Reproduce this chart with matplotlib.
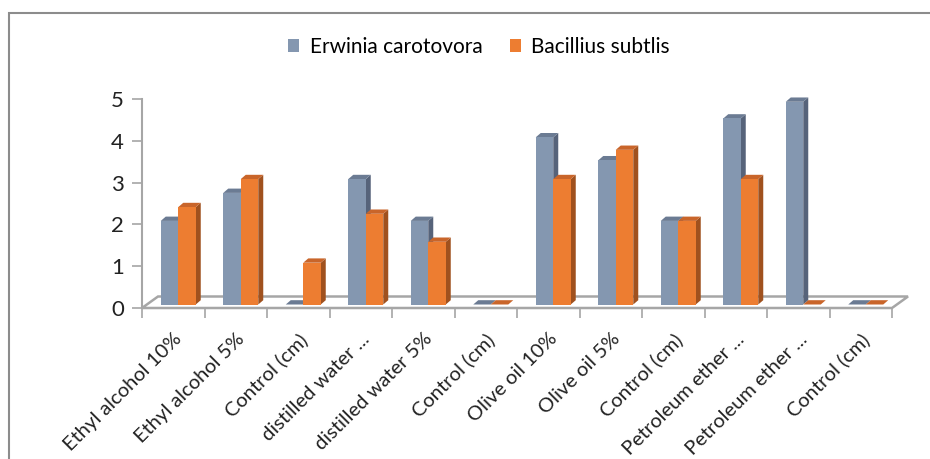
import matplotlib
matplotlib.use("Agg")
import matplotlib.pyplot as plt
from matplotlib.patches import Polygon, Rectangle

# --- Data ---
categories = [
    "Ethyl alcohol 10%", "Ethyl alcohol 5%", "Control (cm)",
    "distilled water ...", "distilled water 5%", "Control (cm)",
    "Olive oil 10%", "Olive oil 5%", "Control (cm)",
    "Petroleum ether ...", "Petroleum ether ...", "Control (cm)",
]
erwinia = [2.0, 2.67, 0.0, 3.0, 2.0, 0.0, 4.0, 3.45, 2.0, 4.45, 4.85, 0.0]
bacillus = [2.33, 3.0, 1.0, 2.17, 1.5, 0.0, 3.0, 3.7, 2.0, 3.0, 0.0, 0.0]
series_names = ["Erwinia carotovora", "Bacillius subtlis"]
y_ticks = [0, 1, 2, 3, 4, 5]

# --- Style ---
FONT = "Lato"
BLUE = ("#8497b0", "#56637a", "#6b7b93")     # front, side, top
ORANGE = ("#ed7d31", "#a0511e", "#c9652a")
AXIS_GRAY = "#a6a6a6"

W, H, DPI = 930, 459, 100
X0, X1 = 142, 892          # pixel span of the category axis
Y0, Y5 = 308, 99           # pixel rows of 0 and 5
n = len(categories)
ux = (X1 - X0) / n         # pixels per category
uy = (Y0 - Y5) / 5.0       # pixels per unit value

# 3D offsets in data units
bar_dx, bar_dy = 5 / ux, 4.3 / uy
floor_dx, floor_dy = 16 / ux, 11.5 / uy
bar_base = 3.5 / uy
bar_w = 0.28
bar_x0 = 0.30

fig = plt.figure(figsize=(W / DPI, H / DPI), dpi=DPI)
ax = fig.add_axes([X0 / W, 1 - Y0 / H, (X1 - X0) / W, (Y0 - Y5) / H])
ax.set_xlim(0, n)
ax.set_ylim(0, 5)
for s in ["top", "right", "bottom"]:
    ax.spines[s].set_visible(False)
ax.spines["left"].set_color(AXIS_GRAY)
ax.spines["left"].set_linewidth(1.5)

# outer chart frame
fig.patches.append(Rectangle((9 / W, -0.1), 1.2, 1 - 13 / H + 0.1, transform=fig.transFigure,
                             fill=False, edgecolor="#8c8c8c", linewidth=1.5, zorder=0))

# floor
floor = Polygon([(0, 0), (n, 0), (n + floor_dx, floor_dy), (floor_dx, floor_dy)],
                closed=True, facecolor="white", edgecolor=AXIS_GRAY, linewidth=1.8,
                clip_on=False, zorder=1)
ax.add_patch(floor)


def bar3d(x, h, colors):
    front, side, top = colors
    b = bar_base
    t = bar_base + h
    ax.add_patch(Polygon([(x + bar_w, b), (x + bar_w + bar_dx, b + bar_dy),
                          (x + bar_w + bar_dx, t + bar_dy), (x + bar_w, t)],
                         closed=True, facecolor=side, edgecolor="none", zorder=3, clip_on=False))
    ax.add_patch(Polygon([(x, t), (x + bar_w, t), (x + bar_w + bar_dx, t + bar_dy),
                          (x + bar_dx, t + bar_dy)],
                         closed=True, facecolor=top, edgecolor="none", zorder=3, clip_on=False))
    if h > 0:
        ax.add_patch(Rectangle((x, b), bar_w, h, facecolor=front, edgecolor="none",
                               zorder=3, clip_on=False))


for i in range(n):
    bar3d(i + bar_x0, erwinia[i], BLUE)
    bar3d(i + bar_x0 + bar_w, bacillus[i], ORANGE)

# axes ticks
ax.set_yticks(y_ticks)
ax.tick_params(axis="y", length=7, width=1.2, color=AXIS_GRAY, pad=6,
               labelsize=16, labelcolor="#222222")
ax.set_xticks(range(n + 1))
ax.set_xticks([i + 0.5 for i in range(n)], minor=True)
ax.set_xticklabels([], minor=False)
ax.set_xticklabels(categories, minor=True, rotation=45, ha="right",
                   rotation_mode="anchor", fontsize=14.5, color="#222222", family=FONT)
ax.tick_params(axis="x", which="major", length=7, width=1.2, color=AXIS_GRAY)
ax.tick_params(axis="x", which="minor", length=0, pad=16)
for lab in ax.get_yticklabels():
    lab.set_family(FONT)

# legend
handles = [Rectangle((0, 0), 1, 1, facecolor=BLUE[0]),
           Rectangle((0, 0), 1, 1, facecolor=ORANGE[0])]
fig.legend(handles, series_names, loc="center", bbox_to_anchor=(479 / W, 1 - 47 / H),
           ncol=2, frameon=False, prop={"family": FONT, "size": 15},
           handlelength=0.55, handleheight=0.55, handletextpad=0.5, columnspacing=1.3)

fig.savefig("out.png", dpi=DPI)
